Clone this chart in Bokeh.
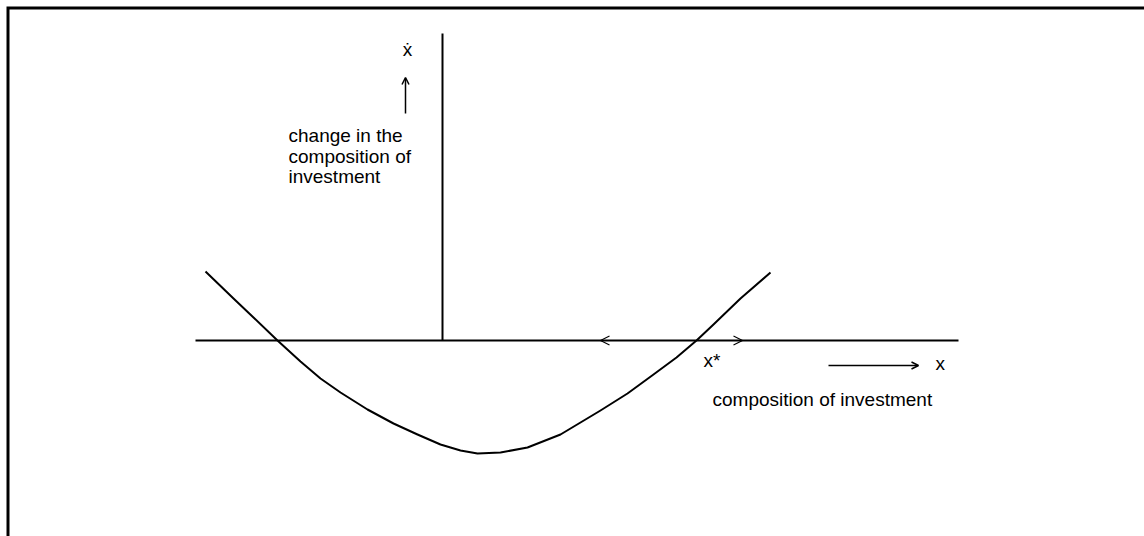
from bokeh.plotting import figure
from bokeh.models import Arrow, OpenHead, Range1d
from bokeh.core.properties import value
from bokeh.embed import file_html
from bokeh.resources import INLINE

# curve: change in composition of investment (x-dot) vs composition (x)
curve_x = [-2.37, -2.09, -1.89, -1.65, -1.42, -1.22, -1.02, -0.75, -0.49, -0.25,
           -0.02, 0.18, 0.35, 0.58, 0.85, 1.18, 1.38, 1.58, 1.85, 2.11,
           2.34, 2.54, 2.71, 2.98, 3.28]
curve_y = [0.69, 0.42, 0.23, 0.00, -0.21, -0.38, -0.52, -0.69, -0.83, -0.94,
           -1.04, -1.10, -1.13, -1.12, -1.07, -0.94, -0.82, -0.70, -0.53, -0.34,
           -0.17, 0.00, 0.16, 0.42, 0.68]

# axes extents
h_axis_x = [-2.47, 5.16]
v_axis_y = [0.0, 3.07]
x_star = 2.54

# labels
ylabel_sym = "ẋ"
ylabel_lines = ["change in the", "composition of", "investment"]
xlabel_sym = "x"
xlabel_text = "composition of investment"
xstar_label = "x*"

FONT = value("Liberation Sans")
FS = "19px"

p = figure(width=1144, height=536, output_backend="svg", toolbar_location=None,
           x_range=Range1d(-4.42, 7.02), y_range=Range1d(-1.96, 3.40),
           min_border=0, min_border_left=0, min_border_right=0,
           min_border_top=0, min_border_bottom=0)
p.axis.visible = False
p.grid.visible = False
p.outline_line_color = None
p.background_fill_color = "white"
p.border_fill_color = "white"

# frame (top and left edges meeting at the corner)
frame_x = [-4.345, -4.345, 7.2]
frame_y = [-2.1, 3.325, 3.325]
p.line(frame_x, frame_y, line_color="black", line_width=3, line_join="miter")

# axes
p.line(h_axis_x, [0, 0], line_color="black", line_width=2)
p.line([0, 0], v_axis_y, line_color="black", line_width=2)

# curve
p.line(curve_x, curve_y, line_color="black", line_width=2, line_join="round")

# stability arrows on the horizontal axis
p.add_layout(Arrow(end=OpenHead(size=9, line_width=1.2, line_color="black"),
                   x_start=x_star - 0.5, y_start=0, x_end=1.58, y_end=0,
                   line_color="black", line_width=1.2))
p.add_layout(Arrow(end=OpenHead(size=9, line_width=1.2, line_color="black"),
                   x_start=x_star - 0.2, y_start=0, x_end=3.00, y_end=0,
                   line_color="black", line_width=1.2))

# vertical label arrow
p.add_layout(Arrow(end=OpenHead(size=7, line_width=1.5, line_color="black"),
                   x_start=-0.37, y_start=2.27, x_end=-0.37, y_end=2.63,
                   line_color="black", line_width=1.5))
# horizontal label arrow
p.add_layout(Arrow(end=OpenHead(size=7, line_width=1.5, line_color="black"),
                   x_start=3.86, y_start=-0.25, x_end=4.76, y_end=-0.25,
                   line_color="black", line_width=1.5))

def label(x, y, s, align="left"):
    p.text([x], [y], text=[s], text_font=FONT, text_font_size=FS,
           text_align=align, text_baseline="alphabetic", text_color="black")

label(-0.35, 2.91, ylabel_sym, "center")
for yy, s in zip([2.05, 1.84, 1.64], ylabel_lines):
    label(-1.54, yy, s)
label(2.61, -0.20, xstar_label)
label(4.93, -0.23, xlabel_sym)
label(2.70, -0.59, xlabel_text)

open("out.html", "w").write(file_html(p, INLINE))
